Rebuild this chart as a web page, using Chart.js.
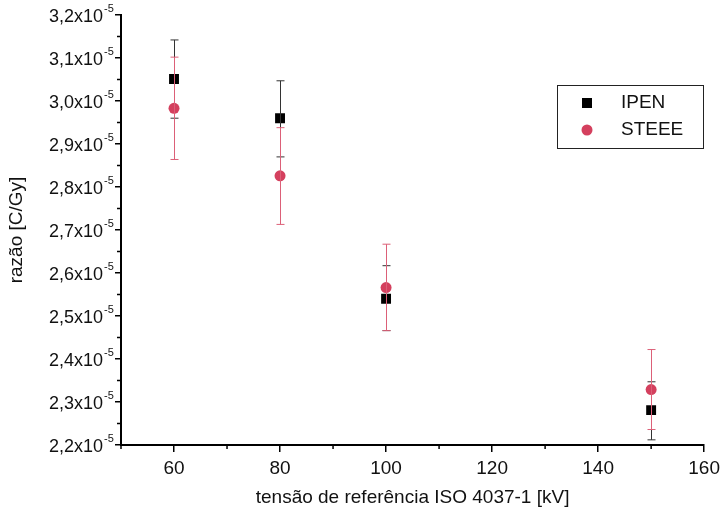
<!DOCTYPE html>
<html>
<head>
<meta charset="utf-8">
<script src="https://cdn.jsdelivr.net/npm/chart.js@4/dist/chart.umd.min.js"></script>
<style>
  html, body { margin: 0; background: #fff; }
  #wrap { width: 725px; height: 517px; }
</style>
</head>
<body>
<div id="wrap"><canvas id="c"></canvas></div>
<script>
// values are in units of 10^-5 C/Gy
const voltages = [60, 80, 100, 150];
const ipen = [3.051, 2.960, 2.540, 2.281];
const ipenHigh = [3.142, 3.047, 2.617, 2.347];
const ipenLow = [2.960, 2.870, 2.466, 2.212];
const steee = [2.983, 2.826, 2.566, 2.329];
const steeeHigh = [3.102, 2.938, 2.667, 2.422];
const steeeLow = [2.864, 2.713, 2.466, 2.236];
const xTicks = [60, 80, 100, 120, 140, 160];
const xMinor = [50, 70, 90, 110, 130, 150];
const yTicks = [2.2, 2.3, 2.4, 2.5, 2.6, 2.7, 2.8, 2.9, 3.0, 3.1, 3.2];
const yMinor = [2.25, 2.35, 2.45, 2.55, 2.65, 2.75, 2.85, 2.95, 3.05, 3.15];

const FONT = "'Liberation Sans', Arial, sans-serif";
const RED = '#d4405e';
const RED_BAR = '#dc6078';

const toPoints = (xs, ys) => xs.map((x, i) => ({ x: x, y: ys[i] }));

const errorBars = [
  { lo: ipenLow, hi: ipenHigh, color: '#333' },
  { lo: steeeLow, hi: steeeHigh, color: RED_BAR }
];

const extras = {
  id: 'extras',
  afterDatasetsDraw(chart) {
    const { ctx, scales: { x, y } } = chart;
    ctx.save();
    ctx.lineWidth = 1;
    errorBars.forEach(eb => {
      ctx.strokeStyle = eb.color;
      voltages.forEach((v, i) => {
        const px = Math.round(x.getPixelForValue(v)) + 0.5;
        const yl = y.getPixelForValue(eb.lo[i]);
        const yh = y.getPixelForValue(eb.hi[i]);
        ctx.beginPath();
        ctx.moveTo(px, yh); ctx.lineTo(px, yl);
        ctx.moveTo(px - 4, yh); ctx.lineTo(px + 4, yh);
        ctx.moveTo(px - 4, yl); ctx.lineTo(px + 4, yl);
        ctx.stroke();
      });
    });
    ctx.restore();
  },
  afterDraw(chart) {
    const { ctx, scales: { x, y }, chartArea } = chart;
    ctx.save();
    ctx.strokeStyle = '#000';
    ctx.lineWidth = 1.5;
    // minor ticks
    ctx.beginPath();
    xMinor.forEach(v => {
      const px = x.getPixelForValue(v);
      ctx.moveTo(px, chartArea.bottom); ctx.lineTo(px, chartArea.bottom + 4);
    });
    yMinor.forEach(v => {
      const py = y.getPixelForValue(v);
      ctx.moveTo(chartArea.left, py); ctx.lineTo(chartArea.left - 4, py);
    });
    ctx.stroke();

    // y tick labels with exponent
    ctx.fillStyle = '#111';
    yTicks.forEach(v => {
      const py = y.getPixelForValue(v);
      ctx.font = '18px ' + FONT;
      ctx.textAlign = 'right';
      ctx.textBaseline = 'middle';
      ctx.fillText(v.toFixed(1).replace('.', ',') + 'x10', 103, py + 2);
      ctx.font = '11px ' + FONT;
      ctx.textAlign = 'left';
      ctx.fillText('-5', 104, py - 6);
    });

    // y title
    ctx.save();
    ctx.translate(17, (chartArea.top + chartArea.bottom) / 2);
    ctx.rotate(-Math.PI / 2);
    ctx.font = '19px ' + FONT;
    ctx.textAlign = 'center';
    ctx.textBaseline = 'middle';
    ctx.fillText('razão [C/Gy]', 0, 0);
    ctx.restore();

    // legend box
    ctx.lineWidth = 1;
    ctx.strokeStyle = '#222';
    ctx.strokeRect(557.5, 85.5, 146, 63);
    ctx.fillStyle = '#000';
    ctx.fillRect(582, 98, 10, 10);
    ctx.fillStyle = RED;
    ctx.beginPath();
    ctx.arc(587, 130, 5.5, 0, Math.PI * 2);
    ctx.fill();
    ctx.fillStyle = '#111';
    ctx.font = '19px ' + FONT;
    ctx.textAlign = 'left';
    ctx.textBaseline = 'middle';
    ctx.fillText('IPEN', 621, 103);
    ctx.fillText('STEEE', 621, 130);
    ctx.restore();
  }
};

new Chart(document.getElementById('c'), {
  type: 'scatter',
  data: {
    datasets: [
      {
        label: 'IPEN',
        data: toPoints(voltages, ipen),
        pointStyle: 'rect',
        pointRadius: 7,
        backgroundColor: '#000',
        borderColor: '#000',
        borderWidth: 0
      },
      {
        label: 'STEEE',
        data: toPoints(voltages, steee),
        pointStyle: 'circle',
        pointRadius: 5.5,
        backgroundColor: RED,
        borderColor: RED,
        borderWidth: 0
      }
    ]
  },
  options: {
    responsive: true,
    maintainAspectRatio: false,
    animation: false,
    layout: { padding: { top: 15, right: 13, left: 0, bottom: 0 } },
    plugins: { legend: { display: false }, tooltip: { enabled: false } },
    scales: {
      x: {
        type: 'linear',
        min: 50,
        max: 160,
        afterBuildTicks: s => { s.ticks = xTicks.map(v => ({ value: v })); },
        afterFit: s => { s.height = 72; },
        grid: { drawOnChartArea: false, tickLength: 7, color: '#000', lineWidth: 1.5 },
        border: { color: '#000', width: 2 },
        ticks: { color: '#111', font: { family: FONT, size: 19 }, padding: 5, maxRotation: 0, autoSkip: false },
        title: {
          display: true,
          text: 'tensão de referência ISO 4037-1 [kV]',
          color: '#111',
          font: { family: FONT, size: 19 },
          padding: { top: 4, bottom: 8 }
        }
      },
      y: {
        min: 2.2,
        max: 3.2,
        afterBuildTicks: s => { s.ticks = yTicks.map(v => ({ value: v })); },
        afterFit: s => { s.width = 121; },
        grid: { drawOnChartArea: false, tickLength: 6, color: '#000', lineWidth: 1.5 },
        border: { color: '#000', width: 2 },
        ticks: { display: true, callback: () => '', autoSkip: false }
      }
    }
  },
  plugins: [extras]
});
</script>
</body>
</html>
